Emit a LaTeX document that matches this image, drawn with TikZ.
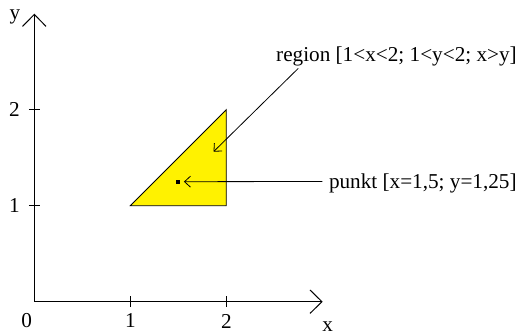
\documentclass[tikz,border=0pt]{standalone}
\usepackage{fontspec}
\setmainfont{Liberation Serif}
\usetikzlibrary{arrows.meta}
\begin{document}
\begin{tikzpicture}[x=96pt,y=96pt,
  font=\fontsize{21.2}{25}\selectfont,
  axisline/.style={line width=1pt, -{Straight Barb[length=12pt,width=23.5pt,line width=1pt]}},
  callout/.style={line width=0.8pt, -{Straight Barb[length=6pt,width=11pt,line width=0.8pt]}},
  tickmark/.style={line width=1pt},
  lbl/.style={inner sep=0pt},
  dot/.style={fill=black, inner sep=0pt, minimum size=4pt}]
\useasboundingbox (-0.3573,-0.3052) rectangle (5.0698,3.1427);
% axes
\coordinate (O) at (0,0);
\coordinate (X) at (3.004,0);
\coordinate (Y) at (0,3.0);
\draw[axisline] (O) -- (X);
\draw[axisline] (O) -- (Y);
% ticks
\foreach \i in {1,2} {
  \draw[tickmark] (\i,0) ++(0,-5.5pt) -- ++(0,11pt);
  \draw[tickmark] (0,\i) ++(-5.5pt,0) -- ++(11pt,0);
  \node[lbl] (xl\i) at ([yshift=-19.3pt]\i,0) {\i};
  \node[lbl] (yl\i) at ([xshift=-20pt]0,\i) {\i};
}
\node[lbl] (zero) at (-7.6pt,-19.3pt) {0};
\node[lbl, anchor=base] (ylab) at (-0.201,2.94) {y};
\node[lbl, anchor=base] (xlab) at (3.056,-0.307) {x};
% region
\filldraw[fill=yellow, draw=black, line width=0.8pt] (1,1) -- (2,1) -- (2,2) -- cycle;
% point
\node[dot] (p) at (1.5,1.25) {};
% labels
\node[lbl, anchor=base] (rl) at (3.773,2.497) {region [1<x<2; 1<y<2; x>y]};
\node[lbl, anchor=base west] (pl) at (3.068,1.181) {punkt [x=1,5; y=1,25]};
\coordinate (rs) at (2.75,2.431);
\coordinate (rt) at (1.867,1.5625);
\coordinate (ps) at (3.0,1.252);
\coordinate (pt) at ([xshift=5.6pt]p.center);
\draw[callout] (rs) -- (rt);
\draw[callout] (ps) -- (pt);
\end{tikzpicture}
\end{document}
